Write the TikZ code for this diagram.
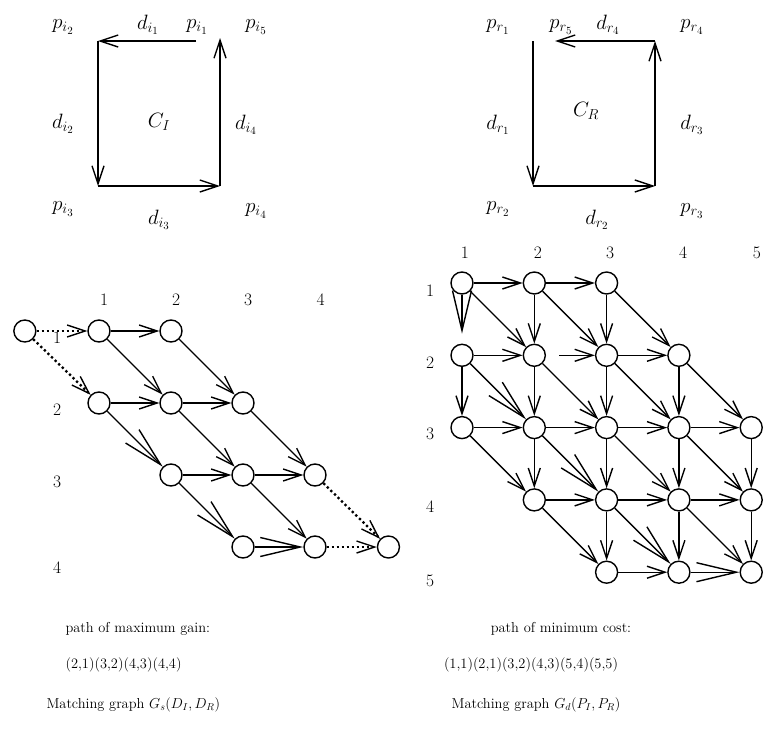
\documentclass[tikz,border=0pt]{standalone}
\usetikzlibrary{arrows.meta}
\begin{document}
\begin{tikzpicture}[x=1pt,y=-1pt]
  \def\lw{1.4pt}         % line width
  \def\sp{72pt}          % grid spacing
  \def\rsp{72.3pt}       % grid spacing right graph

  \tikzstyle{every node}=[font=\fontsize{14.4}{17}\selectfont]
  \tikzstyle{mlabel}=[font=\fontsize{21}{25}\selectfont]
  \tikzstyle{num}=[font=\fontsize{17.5}{21}\selectfont]
  \tikzstyle{vertex}=[circle,draw,line width=\lw,minimum size=22pt,inner sep=0pt]
  \tikzstyle{edge}=[-{Straight Barb[length=18pt,width=12pt,line width=\lw]},line width=\lw]
  \tikzstyle{pathedge}=[-{Straight Barb[length=40pt,width=19pt,line width=\lw]},line width=\lw]
  \tikzstyle{endedge}=[edge,line width=2.3pt,dash pattern=on 2.3pt off 2.7pt]

  \useasboundingbox (0,0) rectangle (763,744);

  % CONTOUR C_I
  \coordinate (ci1) at (196,41);
  \coordinate (ci2) at (98,41);
  \coordinate (ci3) at (98,186);
  \coordinate (ci4) at (220,186);
  \coordinate (ci5) at (220,38);
  \draw[edge] (ci1) -- (ci2);
  \draw[edge] (ci2) -- (ci3);
  \draw[edge] (ci3) -- (ci4);
  \draw[edge] (ci4) -- (ci5);
  \node[mlabel] (pi2) at (63,27) {$p_{i_2}$};
  \node[mlabel] (di1) at (148,25) {$d_{i_1}$};
  \node[mlabel] (pi1) at (197,27) {$p_{i_1}$};
  \node[mlabel] (pi5) at (256,27) {$p_{i_5}$};
  \node[mlabel] (di2) at (63,124) {$d_{i_2}$};
  \node[mlabel] (CI)  at (159,122) {$C_I$};
  \node[mlabel] (di4) at (246,125) {$d_{i_4}$};
  \node[mlabel] (pi3) at (63,209) {$p_{i_3}$};
  \node[mlabel] (di3) at (159,220) {$d_{i_3}$};
  \node[mlabel] (pi4) at (256,211) {$p_{i_4}$};

  % CONTOUR C_R
  \coordinate (cr1) at (533,41);
  \coordinate (cr2) at (533,186);
  \coordinate (cr3) at (655,186);
  \coordinate (cr4) at (655,41);
  \coordinate (cr5) at (555,41);
  \draw[edge] (cr1) -- (cr2);
  \draw[edge] (cr2) -- (cr3);
  \draw[edge] (cr3) -- (cr4);
  \draw[edge] (cr4) -- (cr5);
  \node[mlabel] (pr1) at (498,27) {$p_{r_1}$};
  \node[mlabel] (pr5) at (561,27) {$p_{r_5}$};
  \node[mlabel] (dr4) at (608,25) {$d_{r_4}$};
  \node[mlabel] (pr4) at (692,27) {$p_{r_4}$};
  \node[mlabel] (dr1) at (498,125) {$d_{r_1}$};
  \node[mlabel] (CR)  at (586,111) {$C_R$};
  \node[mlabel] (dr3) at (692,125) {$d_{r_3}$};
  \node[mlabel] (pr2) at (498,209) {$p_{r_2}$};
  \node[mlabel] (dr2) at (597,220) {$d_{r_2}$};
  \node[mlabel] (pr3) at (692,211) {$p_{r_3}$};

  % MATCHING GRAPH G_s
  \begin{scope}[shift={(99,331)},x=\sp,y=-\sp]
    \node[num] (sc1) at (0.07,-0.43) {1};
    \node[num] (sc2) at (1.07,-0.43) {2};
    \node[num] (sc3) at (2.07,-0.43) {3};
    \node[num] (sc4) at (3.08,-0.43) {4};
    \node[num] (sr1) at (-0.58,0.1) {1};
    \node[num] (sr2) at (-0.58,1.1) {2};
    \node[num] (sr3) at (-0.58,2.1) {3};
    \node[num] (sr4) at (-0.58,3.28) {4};
    \node[vertex] (s)   at (-1.03,0) {};
    \node[vertex] (a11) at (0,0) {};
    \node[vertex] (a12) at (1,0) {};
    \node[vertex] (a21) at (0,1) {};
    \node[vertex] (a22) at (1,1) {};
    \node[vertex] (a23) at (2,1) {};
    \node[vertex] (a32) at (1,2) {};
    \node[vertex] (a33) at (2,2) {};
    \node[vertex] (a34) at (3,2) {};
    \node[vertex] (a43) at (2,3) {};
    \node[vertex] (a44) at (3,3) {};
    \node[vertex] (t)   at (4.02,3) {};
    \draw[endedge] (s) -- (a11);
    \draw[endedge] (s) -- (a21);
    \draw[edge] (a11) -- (a12);
    \draw[edge] (a11) -- (a22);
    \draw[edge] (a12) -- (a23);
    \draw[edge] (a21) -- (a22);
    \draw[pathedge] (a21) -- (a32);
    \draw[edge] (a22) -- (a23);
    \draw[edge] (a22) -- (a33);
    \draw[edge] (a23) -- (a34);
    \draw[edge] (a32) -- (a33);
    \draw[pathedge] (a32) -- (a43);
    \draw[edge] (a33) -- (a34);
    \draw[edge] (a33) -- (a44);
    \draw[pathedge] (a43) -- (a44);
    \draw[endedge] (a34) -- (t);
    \draw[endedge] (a44) -- (t);
  \end{scope}

  % MATCHING GRAPH G_d
  \begin{scope}[shift={(462,283)},x=\rsp,y=-\rsp]
    \node[num] (dc1) at (0.04,-0.42) {1};
    \node[num] (dc2) at (1.05,-0.42) {2};
    \node[num] (dc3) at (2.05,-0.42) {3};
    \node[num] (dc4) at (3.06,-0.42) {4};
    \node[num] (dc5) at (4.08,-0.42) {5};
    \node[num] (dd1) at (-0.44,0.1) {1};
    \node[num] (dd2) at (-0.44,1.1) {2};
    \node[num] (dd3) at (-0.44,2.08) {3};
    \node[num] (dd4) at (-0.44,3.1) {4};
    \node[num] (dd5) at (-0.44,4.12) {5};
    \node[vertex] (b11) at (0,0) {};
    \node[vertex] (b12) at (1,0) {};
    \node[vertex] (b13) at (2,0) {};
    \node[vertex] (b21) at (0,1) {};
    \node[vertex] (b22) at (1,1) {};
    \node[vertex] (b23) at (2,1) {};
    \node[vertex] (b24) at (3,1) {};
    \node[vertex] (b31) at (0,2) {};
    \node[vertex] (b32) at (1,2) {};
    \node[vertex] (b33) at (2,2) {};
    \node[vertex] (b34) at (3,2) {};
    \node[vertex] (b35) at (4,2) {};
    \node[vertex] (b42) at (1,3) {};
    \node[vertex] (b43) at (2,3) {};
    \node[vertex] (b44) at (3,3) {};
    \node[vertex] (b45) at (4,3) {};
    \node[vertex] (b53) at (2,4) {};
    \node[vertex] (b54) at (3,4) {};
    \node[vertex] (b55) at (4,4) {};
    % row 1
    \draw[edge] (b11) -- (b12);
    \draw[pathedge,shorten >=10pt] (b11) -- (b21);
    \draw[edge] (b11) -- (b22);
    \draw[edge] (b12) -- (b13);
    \draw[edge] (b12) -- (b22);
    \draw[edge] (b12) -- (b23);
    \draw[edge] (b13) -- (b23);
    \draw[edge] (b13) -- (b24);
    % row 2
    \draw[edge] (b21) -- (b22);
    \draw[edge] (b21) -- (b31);
    \draw[pathedge] (b21) -- (b32);
    \draw[edge,shorten <=13pt] (b22) -- (b23);
    \draw[edge] (b22) -- (b32);
    \draw[edge] (b22) -- (b33);
    \draw[edge] (b23) -- (b24);
    \draw[edge] (b23) -- (b33);
    \draw[edge] (b23) -- (b34);
    \draw[edge] (b24) -- (b34);
    \draw[edge] (b24) -- (b35);
    % row 3
    \draw[edge] (b31) -- (b32);
    \draw[edge] (b31) -- (b42);
    \draw[edge] (b32) -- (b33);
    \draw[edge] (b32) -- (b42);
    \draw[pathedge] (b32) -- (b43);
    \draw[edge] (b33) -- (b34);
    \draw[edge] (b33) -- (b43);
    \draw[edge] (b33) -- (b44);
    \draw[edge] (b34) -- (b35);
    \draw[edge] (b34) -- (b44);
    \draw[edge] (b34) -- (b45);
    \draw[edge] (b35) -- (b45);
    % row 4
    \draw[edge] (b42) -- (b43);
    \draw[edge] (b42) -- (b53);
    \draw[edge] (b43) -- (b44);
    \draw[edge] (b43) -- (b53);
    \draw[pathedge] (b43) -- (b54);
    \draw[edge] (b44) -- (b45);
    \draw[edge] (b44) -- (b54);
    \draw[edge] (b44) -- (b55);
    \draw[edge] (b45) -- (b55);
    % row 5
    \draw[edge] (b53) -- (b54);
    \draw[pathedge] (b54) -- (b55);
  \end{scope}

  % CAPTIONS
  \node[anchor=west] (gaintxt) at (62,629) {path of maximum gain:};
  \node[anchor=west] (gainpath) at (62,665) {(2,1)(3,2)(4,3)(4,4)};
  \node[anchor=west] (gscap) at (43,705) {Matching graph $G_s(D_I,D_R)$};
  \node (costtxt) at (561,629) {path of minimum cost:};
  \node (costpath) at (531,665) {(1,1)(2,1)(3,2)(4,3)(5,4)(5,5)};
  \node (gdcap) at (536,705) {Matching graph $G_d(P_I,P_R)$};
\end{tikzpicture}
\end{document}
